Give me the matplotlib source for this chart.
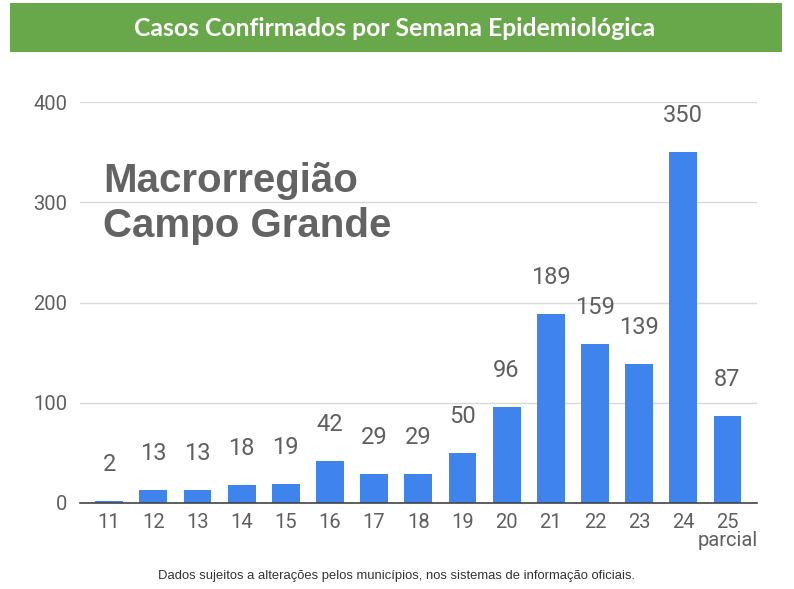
import matplotlib
matplotlib.use('Agg')
import matplotlib.pyplot as plt
from matplotlib.patches import Rectangle

# dados -------------------------------------------------------------
semanas = ['11', '12', '13', '14', '15', '16', '17', '18', '19', '20', '21', '22', '23', '24', '25\nparcial']
casos = [2, 13, 13, 18, 19, 42, 29, 29, 50, 96, 189, 159, 139, 350, 87]
y_ticks = [0, 100, 200, 300, 400]

titulo = 'Casos Confirmados por Semana Epidemiológica'
regiao = 'Macrorregião\nCampo Grande'
nota = 'Dados sujeitos a alterações pelos municípios, nos sistemas de informação oficiais.'

# figura -------------------------------------------------------------
cor_barra = '#3f84ec'
cor_texto = '#5f5f5f'

fig = plt.figure(figsize=(7.94, 5.89), dpi=100)
fig.patch.set_facecolor('white')

# faixa verde do titulo
fig.patches.append(Rectangle((10 / 794, 1 - 52 / 589), 772 / 794, 49 / 589,
                             transform=fig.transFigure, facecolor='#69a84a',
                             edgecolor='none', zorder=0))
fig.text(395 / 794, 1 - 28 / 589, titulo, ha='center', va='center',
         color='white', fontsize=17.8, fontweight='bold', family='Lato')

ax = fig.add_axes([80 / 794, 1 - 503 / 589, 677 / 794, 401 / 589])
x = list(range(len(semanas)))
ax.bar(x, casos, width=0.63, color=cor_barra, zorder=3)

ax.set_xlim(-0.66, len(semanas) - 1 + 0.67)
ax.set_ylim(0, 400)
ax.set_yticks(y_ticks)
ax.set_xticks(x)
ax.set_xticklabels(semanas, family='Roboto', fontsize=14.5, color=cor_texto,
                   linespacing=0.95, va='top')
for lbl in ax.get_yticklabels():
    lbl.set_family('Roboto')
ax.tick_params(axis='y', labelsize=14.5, labelcolor=cor_texto, length=0, pad=9)
ax.tick_params(axis='x', length=0, pad=7)

ax.grid(axis='y', color='#d9d9d9', linewidth=1, zorder=0)
for s in ['top', 'right', 'left']:
    ax.spines[s].set_visible(False)
ax.spines['bottom'].set_color('#444444')
ax.spines['bottom'].set_linewidth(1.2)
ax.spines['bottom'].set_zorder(4)

for xi, v in zip(x, casos):
    ax.annotate(str(v), (xi, v), xytext=(0, 25), textcoords='offset pixels',
                ha='center', va='bottom', fontsize=17, color=cor_texto,
                family='Roboto')

ax.text(0.034, 0.85, regiao, transform=ax.transAxes, ha='left', va='top',
        fontsize=29, fontweight='bold', color='#636363',
        family='Liberation Sans', linespacing=1.22)

fig.text(396 / 794, 1 - 576 / 589, nota, ha='center', va='center',
         fontsize=9.4, color='#333333', family='Liberation Sans')

fig.savefig('out.png', dpi=100)
